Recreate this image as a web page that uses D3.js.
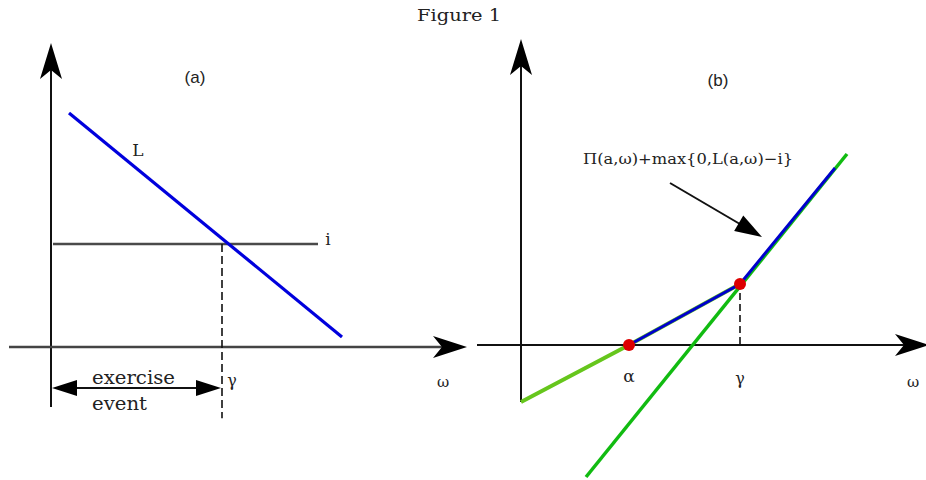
<!DOCTYPE html>
<html><head><meta charset="utf-8">
<script src="https://cdn.jsdelivr.net/npm/d3@7"></script>
<style>html,body{margin:0;padding:0;background:#fff;}svg{display:block;}</style>
</head><body>
<svg id="c" width="926" height="480"></svg>
<script>
// ---- data (abstract units) ----
// Panel (a)
const lineL = [[0.45, 5.85], [7.275, 0.25]];
const levelI = 2.575;
const levelIRange = [0.05, 6.675];
const gammaA = 4.275;
// Panel (b)
const greenLow = [[0, -1.425], [2.7, 0], [5.475, 1.525]];
const steepGreen = [[1.625, -3.3], [8.15, 4.775]];
const payoffBlue = [[2.7, 0], [5.475, 1.525], [7.85, 4.425]];
const kinkDots = [[2.7, 0], [5.475, 1.525]];
const alphaB = 2.7, gammaB = 5.475;
const labels = {title: "Figure 1", a: "(a)", b: "(b)", L: "L", i: "i", omega: "ω", gamma: "γ", alpha: "α",
  ex1: "exercise", ex2: "event", payoff: "Π(a,ω)+max{0,L(a,ω)−i}"};

const svg = d3.select("#c");
const serif = "'DejaVu Serif', serif";
const sans = "'Liberation Sans', Arial, sans-serif";

const xA = d3.scaleLinear().domain([0, 1]).range([51, 91]);
const yA = d3.scaleLinear().domain([0, 1]).range([347, 307]);
const xB = d3.scaleLinear().domain([0, 1]).range([521, 561]);
const yB = d3.scaleLinear().domain([0, 1]).range([345, 305]);

function notchedArrow(g, tx, ty, dir, len, half, notch) {
  const c = Math.cos(dir), s = Math.sin(dir);
  const pt = (a, b) => [tx + a * c - b * s, ty + a * s + b * c];
  const p = [pt(0, 0), pt(-len, -half), pt(-len + notch, 0), pt(-len, half)];
  g.append("path").attr("d", "M" + p.map(d => d.join(",")).join("L") + "Z").attr("fill", "#000");
}
function tri(g, tx, ty, dir, len, half) {
  const c = Math.cos(dir), s = Math.sin(dir);
  const pt = (a, b) => [tx + a * c - b * s, ty + a * s + b * c];
  const p = [pt(0, 0), pt(-len, -half), pt(-len, half)];
  g.append("path").attr("d", "M" + p.map(d => d.join(",")).join("L") + "Z").attr("fill", "#000");
}
const line = (xs, ys) => d3.line().x(d => xs(d[0])).y(d => ys(d[1]));

// title
svg.append("text").attr("x", 459).attr("y", 21).attr("text-anchor", "middle")
  .attr("font-family", serif).attr("font-size", 16).attr("fill", "#222")
  .attr("textLength", 84).attr("lengthAdjust", "spacingAndGlyphs").text(labels.title);

// ===== Panel (a) =====
const ga = svg.append("g");
ga.append("line").attr("x1", xA(0)).attr("x2", xA(0)).attr("y1", yA(-1.5)).attr("y2", yA(7.3))
  .attr("stroke", "#111").attr("stroke-width", 2);
notchedArrow(ga, xA(0), yA(7.6), -Math.PI / 2, 36, 11, 9);
ga.append("line").attr("x1", xA(-1.05)).attr("x2", xA(10.1)).attr("y1", yA(0)).attr("y2", yA(0))
  .attr("stroke", "#444").attr("stroke-width", 2.5);
notchedArrow(ga, xA(10.4), yA(0), 0, 34, 11, 9);
ga.append("line").attr("x1", xA(levelIRange[0])).attr("x2", xA(levelIRange[1]))
  .attr("y1", yA(levelI)).attr("y2", yA(levelI)).attr("stroke", "#4a4a4a").attr("stroke-width", 2.5);
ga.append("line").attr("x1", xA(gammaA)).attr("x2", xA(gammaA)).attr("y1", yA(levelI)).attr("y2", yA(-1.78))
  .attr("stroke", "#111").attr("stroke-width", 1.6).attr("stroke-dasharray", "8,4");
ga.append("path").datum(lineL).attr("d", line(xA, yA)).attr("stroke", "#0000dd").attr("stroke-width", 3.2).attr("fill", "none");
const yEx = 388;
ga.append("line").attr("x1", xA(0) + 20).attr("x2", xA(gammaA) - 20).attr("y1", yEx).attr("y2", yEx)
  .attr("stroke", "#111").attr("stroke-width", 2);
tri(ga, xA(0) + 1, yEx, Math.PI, 25, 8);
tri(ga, xA(gammaA) - 1, yEx, 0, 25, 8);
ga.append("text").attr("x", 195).attr("y", 83).attr("text-anchor", "middle").attr("font-family", sans)
  .attr("font-size", 17).attr("fill", "#222").text(labels.a);
ga.append("text").attr("x", 138).attr("y", 156).attr("text-anchor", "middle").attr("font-family", serif)
  .attr("font-size", 17).attr("fill", "#222").text(labels.L);
ga.append("text").attr("x", 328).attr("y", 245).attr("text-anchor", "middle").attr("font-family", serif)
  .attr("font-size", 17).attr("fill", "#222").text(labels.i);
ga.append("text").attr("x", 232).attr("y", 386).attr("text-anchor", "middle").attr("font-family", serif)
  .attr("font-size", 16).attr("fill", "#222").text(labels.gamma);
ga.append("text").attr("x", 443).attr("y", 387).attr("text-anchor", "middle").attr("font-family", serif)
  .attr("font-size", 15).attr("fill", "#222").text(labels.omega);
ga.append("text").attr("x", 92).attr("y", 384).attr("font-family", serif)
  .attr("font-size", 18).attr("fill", "#222").attr("textLength", 83).attr("lengthAdjust", "spacingAndGlyphs").text(labels.ex1);
ga.append("text").attr("x", 92).attr("y", 410).attr("font-family", serif)
  .attr("font-size", 18).attr("fill", "#222").attr("textLength", 55).attr("lengthAdjust", "spacingAndGlyphs").text(labels.ex2);

// ===== Panel (b) =====
const gb = svg.append("g");
gb.append("line").attr("x1", xB(0)).attr("x2", xB(0)).attr("y1", yB(-1.425)).attr("y2", yB(7.3))
  .attr("stroke", "#111").attr("stroke-width", 2);
notchedArrow(gb, xB(0), yB(7.65), -Math.PI / 2, 36, 11, 9);
gb.append("line").attr("x1", xB(-1.1)).attr("x2", xB(9.9)).attr("y1", yB(0)).attr("y2", yB(0))
  .attr("stroke", "#111").attr("stroke-width", 2);
notchedArrow(gb, xB(10.2), yB(0), 0, 34, 11, 9);
gb.append("line").attr("x1", xB(gammaB)).attr("x2", xB(gammaB)).attr("y1", yB(1.3)).attr("y2", yB(0))
  .attr("stroke", "#111").attr("stroke-width", 1.6).attr("stroke-dasharray", "7,4");
gb.append("path").datum(greenLow).attr("d", line(xB, yB)).attr("stroke", "#66c61c").attr("stroke-width", 4).attr("fill", "none");
gb.append("path").datum(steepGreen).attr("d", line(xB, yB)).attr("stroke", "#11bb11").attr("stroke-width", 3.5).attr("fill", "none");
gb.append("path").datum(payoffBlue).attr("d", line(xB, yB)).attr("stroke", "#0000cc").attr("stroke-width", 3).attr("fill", "none");
gb.selectAll("circle.k").data(kinkDots).join("circle").attr("class", "k")
  .attr("cx", d => xB(d[0])).attr("cy", d => yB(d[1])).attr("r", 6).attr("fill", "#dd0000");
gb.append("line").attr("x1", 670).attr("y1", 183).attr("x2", 745).attr("y2", 227).attr("stroke", "#111").attr("stroke-width", 2);
tri(gb, 762, 237, Math.atan2(237 - 183, 762 - 670), 27, 9);
gb.append("text").attr("x", 718).attr("y", 86).attr("text-anchor", "middle").attr("font-family", sans)
  .attr("font-size", 17).attr("fill", "#222").text(labels.b);
gb.append("text").attr("x", xB(alphaB)).attr("y", 382).attr("text-anchor", "middle").attr("font-family", serif)
  .attr("font-size", 17).attr("fill", "#222").text(labels.alpha);
gb.append("text").attr("x", xB(gammaB)).attr("y", 384).attr("text-anchor", "middle").attr("font-family", serif)
  .attr("font-size", 16).attr("fill", "#222").text(labels.gamma);
gb.append("text").attr("x", 913).attr("y", 387).attr("text-anchor", "middle").attr("font-family", serif)
  .attr("font-size", 15).attr("fill", "#222").text(labels.omega);
gb.append("text").attr("x", 583).attr("y", 164).attr("font-family", serif)
  .attr("font-size", 15).attr("fill", "#222").attr("textLength", 210).attr("lengthAdjust", "spacingAndGlyphs").text(labels.payoff);
</script>
</body></html>
